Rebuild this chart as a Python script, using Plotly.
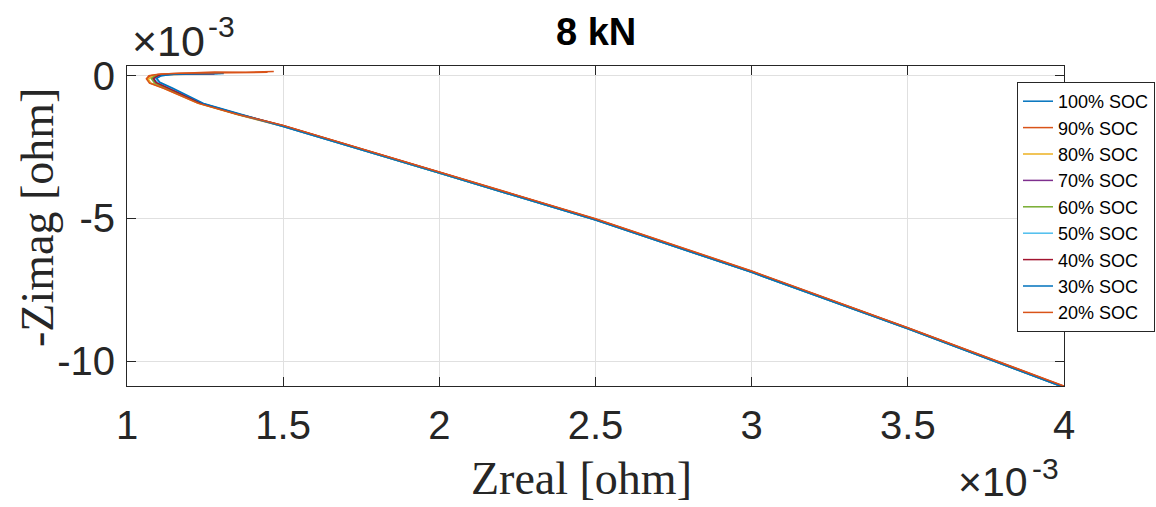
import plotly.graph_objects as go

# Data in units of 1e-3 ohm
series_names = ["100% SOC", "90% SOC", "80% SOC", "70% SOC", "60% SOC",
                "50% SOC", "40% SOC", "30% SOC", "20% SOC"]
series_colors = ["#0072BD", "#D95319", "#EDB120", "#7E2F8E", "#77AC30",
                 "#4DBEEE", "#A2142F", "#0072BD", "#D95319"]

zreal_100 = [1.29, 1.20, 1.14, 1.10, 1.085, 1.095, 1.135, 1.24, 1.365, 1.50, 2.00, 2.50, 3.00, 3.50, 4.00]
zimag_100 = [0.08, 0.07, 0.05, 0.00, -0.10, -0.25, -0.45, -0.99, -1.39, -1.78, -3.41, -5.06, -6.89, -8.87, -10.92]

zreal_90 = [1.47, 1.38, 1.28, 1.18, 1.11, 1.075, 1.065, 1.075, 1.12, 1.23, 1.355, 1.50, 2.00, 2.50, 3.00, 3.50, 4.00]
zimag_90 = [0.15, 0.12, 0.13, 0.10, 0.06, 0.00, -0.10, -0.25, -0.43, -0.95, -1.34, -1.74, -3.38, -5.02, -6.85, -8.84, -10.88]

zreal_80 = [1.27, 1.19, 1.12, 1.085, 1.068, 1.075, 1.12, 1.228, 1.355, 1.50, 2.00, 2.50, 3.00, 3.50, 4.00]
zimag_80 = [0.07, 0.06, 0.04, -0.01, -0.11, -0.26, -0.45, -0.97, -1.37, -1.77, -3.40, -5.05, -6.88, -8.86, -10.91]

zreal_70 = [1.28, 1.20, 1.13, 1.095, 1.08, 1.09, 1.13, 1.235, 1.36, 1.50, 2.00, 2.50, 3.00, 3.50, 4.00]
zimag_70 = [0.07, 0.06, 0.04, 0.00, -0.10, -0.24, -0.44, -0.97, -1.37, -1.76, -3.39, -5.04, -6.87, -8.85, -10.90]

zreal_60 = [1.26, 1.19, 1.125, 1.09, 1.078, 1.088, 1.128, 1.233, 1.36, 1.50, 2.00, 2.50, 3.00, 3.50, 4.00]
zimag_60 = [0.06, 0.06, 0.04, 0.00, -0.10, -0.25, -0.44, -0.97, -1.37, -1.76, -3.40, -5.05, -6.88, -8.86, -10.91]

zreal_50 = [1.30, 1.21, 1.15, 1.11, 1.092, 1.10, 1.14, 1.24, 1.365, 1.50, 2.00, 2.50, 3.00, 3.50, 4.00]
zimag_50 = [0.08, 0.07, 0.05, 0.00, -0.09, -0.23, -0.43, -0.96, -1.37, -1.77, -3.40, -5.05, -6.88, -8.86, -10.91]

zreal_40 = [1.28, 1.20, 1.135, 1.10, 1.085, 1.094, 1.133, 1.237, 1.362, 1.50, 2.00, 2.50, 3.00, 3.50, 4.00]
zimag_40 = [0.07, 0.07, 0.05, 0.00, -0.10, -0.24, -0.43, -0.96, -1.36, -1.75, -3.38, -5.03, -6.86, -8.84, -10.89]

zreal_30 = [1.31, 1.22, 1.15, 1.11, 1.095, 1.105, 1.145, 1.245, 1.37, 1.50, 2.00, 2.50, 3.00, 3.50, 4.00]
zimag_30 = [0.08, 0.07, 0.05, 0.00, -0.09, -0.23, -0.43, -0.97, -1.38, -1.78, -3.41, -5.06, -6.89, -8.87, -10.92]

zreal_20 = [1.45, 1.36, 1.27, 1.17, 1.10, 1.07, 1.062, 1.072, 1.117, 1.226, 1.352, 1.50, 2.00, 2.50, 3.00, 3.50, 4.00]
zimag_20 = [0.12, 0.11, 0.12, 0.09, 0.05, 0.00, -0.11, -0.26, -0.44, -0.96, -1.35, -1.74, -3.37, -5.01, -6.84, -8.83, -10.87]

all_x = [zreal_100, zreal_90, zreal_80, zreal_70, zreal_60, zreal_50, zreal_40, zreal_30, zreal_20]
all_y = [zimag_100, zimag_90, zimag_80, zimag_70, zimag_60, zimag_50, zimag_40, zimag_30, zimag_20]

x_ticks = [1, 1.5, 2, 2.5, 3, 3.5, 4]
x_tick_labels = ["1", "1.5", "2", "2.5", "3", "3.5", "4"]
y_ticks = [-10, -5, 0]
y_tick_labels = ["-10", "-5", "0"]

fig = go.Figure()
for name, color, xs, ys in zip(series_names, series_colors, all_x, all_y):
    fig.add_trace(go.Scatter(x=xs, y=ys, mode="lines", name=name,
                             line=dict(color=color, width=1.5)))

axis_color = "#262626"
sans = "Liberation Sans, Arial"
serif = "Liberation Serif, Times New Roman"
tick_font = dict(family=sans, size=40, color=axis_color)

# plot area in pixels: left 127, right 1064, top 66, bottom 386
def px_x(p):
    return (p - 127) / 937.0

def px_y(p):
    return (386 - p) / 320.0

fig.update_layout(
    width=1156, height=507,
    margin=dict(l=127, r=92, t=66, b=121, autoexpand=False),
    paper_bgcolor="white", plot_bgcolor="white",
    showlegend=True,
    legend=dict(x=px_x(1017), y=px_y(82), xanchor="left", yanchor="top",
                bgcolor="white", bordercolor=axis_color, borderwidth=1,
                font=dict(family=sans, size=18, color="black"),
                itemwidth=30, tracegroupgap=0),
    xaxis=dict(range=[1, 4], tickvals=x_ticks, ticktext=x_tick_labels,
               showgrid=True, gridcolor="#e0e0e0", gridwidth=1,
               showline=True, linecolor=axis_color, linewidth=1, mirror="ticks",
               ticks="inside", ticklen=9, tickcolor=axis_color,
               tickfont=tick_font, zeroline=False, ticklabelstandoff=4),
    yaxis=dict(range=[-10.87, 0.34], tickvals=y_ticks, ticktext=y_tick_labels,
               showgrid=True, gridcolor="#e0e0e0", gridwidth=1,
               showline=True, linecolor=axis_color, linewidth=1, mirror="ticks",
               ticks="inside", ticklen=9, tickcolor=axis_color,
               tickfont=tick_font, zeroline=False, ticklabelstandoff=3),
    annotations=[
        dict(text="<b>8 kN</b>", x=px_x(595.5), y=px_y(32), xref="paper", yref="paper",
             xanchor="center", yanchor="middle", showarrow=False,
             font=dict(family=sans, size=38, color="black")),
        dict(text="Zreal [ohm]", x=px_x(581), y=px_y(478), xref="paper", yref="paper",
             xanchor="center", yanchor="middle", showarrow=False,
             font=dict(family=serif, size=46, color=axis_color)),
        dict(text="-Zimag [ohm]", x=px_x(37), y=px_y(218), xref="paper", yref="paper",
             xanchor="center", yanchor="middle", textangle=-90, showarrow=False,
             font=dict(family=serif, size=46, color=axis_color)),
        # exponent labels
        dict(text="×10", x=px_x(130), y=px_y(41), xref="paper", yref="paper",
             xanchor="left", yanchor="middle", showarrow=False,
             font=dict(family=sans, size=43, color=axis_color)),
        dict(text="-3", x=px_x(206), y=px_y(26), xref="paper", yref="paper",
             xanchor="left", yanchor="middle", showarrow=False,
             font=dict(family=sans, size=30, color=axis_color)),
        dict(text="×10", x=px_x(956), y=px_y(482), xref="paper", yref="paper",
             xanchor="left", yanchor="middle", showarrow=False,
             font=dict(family=sans, size=41, color=axis_color)),
        dict(text="-3", x=px_x(1030), y=px_y(468), xref="paper", yref="paper",
             xanchor="left", yanchor="middle", showarrow=False,
             font=dict(family=sans, size=30, color=axis_color)),
    ],
)

fig.write_html("out.html")
